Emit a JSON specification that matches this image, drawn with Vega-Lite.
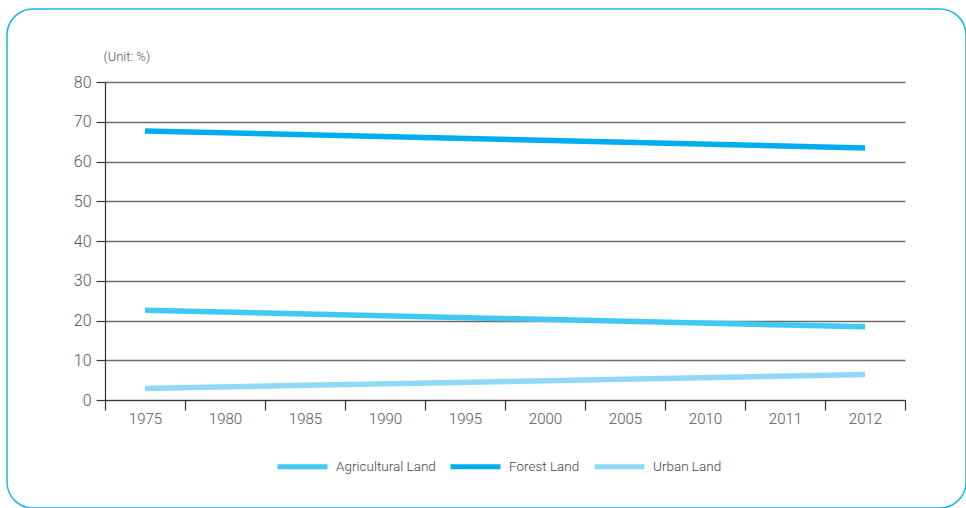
{
  "$schema": "https://vega.github.io/schema/vega-lite/v6.json",
  "width": 959,
  "height": 499,
  "autosize": {"type": "none"},
  "padding": {"left": 7, "top": 9, "right": 0, "bottom": 0},
  "background": "white",
  "config": {
    "view": {"stroke": "#1DB4EC", "strokeWidth": 1.5, "cornerRadius": 26},
    "font": "Roboto"
  },
  "data": {
    "values": [
      {"year": "1975", "landUse": "Agricultural Land", "share": 22.6},
      {"year": "2012", "landUse": "Agricultural Land", "share": 18.4},
      {"year": "1975", "landUse": "Forest Land", "share": 67.7},
      {"year": "2012", "landUse": "Forest Land", "share": 63.4},
      {"year": "1975", "landUse": "Urban Land", "share": 2.9},
      {"year": "2012", "landUse": "Urban Land", "share": 6.4}
    ]
  },
  "mark": {"type": "line", "strokeWidth": 5.5, "strokeCap": "butt"},
  "encoding": {
    "x": {
      "field": "year",
      "type": "nominal",
      "sort": null,
      "scale": {
        "type": "band",
        "domain": ["1975", "1980", "1985", "1990", "1995", "2000", "2005", "2010", "2011", "2012"],
        "range": [98, 898],
        "paddingInner": 0,
        "paddingOuter": 0
      },
      "axis": {
        "title": null,
        "orient": "bottom",
        "offset": -108,
        "tickBand": "extent",
        "tickSize": 10,
        "tickWidth": 1.2,
        "tickColor": "#333333",
        "domainColor": "#333333",
        "domainWidth": 1.2,
        "grid": false,
        "labelAngle": 0,
        "labelColor": "#555555",
        "labelFontSize": 15,
        "labelFontWeight": 300,
        "labelPadding": 1
      }
    },
    "y": {
      "field": "share",
      "type": "quantitative",
      "scale": {"domain": [0, 80], "range": [391, 73], "nice": false},
      "axis": {
        "title": "(Unit:  %)",
        "titleAngle": 0,
        "titleAlign": "left",
        "titleBaseline": "middle",
        "titleX": -2,
        "titleY": 47,
        "titleFontSize": 13,
        "titleFontWeight": 300,
        "titleColor": "#555555",
        "orient": "left",
        "offset": -98,
        "values": [0, 10, 20, 30, 40, 50, 60, 70, 80],
        "tickSize": 9,
        "tickWidth": 1.2,
        "tickColor": "#333333",
        "domainColor": "#333333",
        "domainWidth": 1.2,
        "grid": true,
        "gridColor": "#6A6A6A",
        "gridWidth": 1.4,
        "labelColor": "#555555",
        "labelFontSize": 16,
        "labelFontWeight": 300,
        "labelPadding": 5
      }
    },
    "color": {
      "field": "landUse",
      "type": "nominal",
      "scale": {
        "domain": ["Agricultural Land", "Forest Land", "Urban Land"],
        "range": ["#41C8F3", "#00AEEF", "#8FD9F6"]
      },
      "legend": {
        "title": null,
        "orient": "none",
        "direction": "horizontal",
        "legendX": 268,
        "legendY": 430,
        "symbolType": "stroke",
        "symbolSize": 2500,
        "symbolStrokeWidth": 5,
        "labelFontSize": 13.5,
        "labelFontWeight": 300,
        "labelColor": "#444444",
        "labelOffset": 6,
        "columnPadding": 4
      }
    }
  }
}
